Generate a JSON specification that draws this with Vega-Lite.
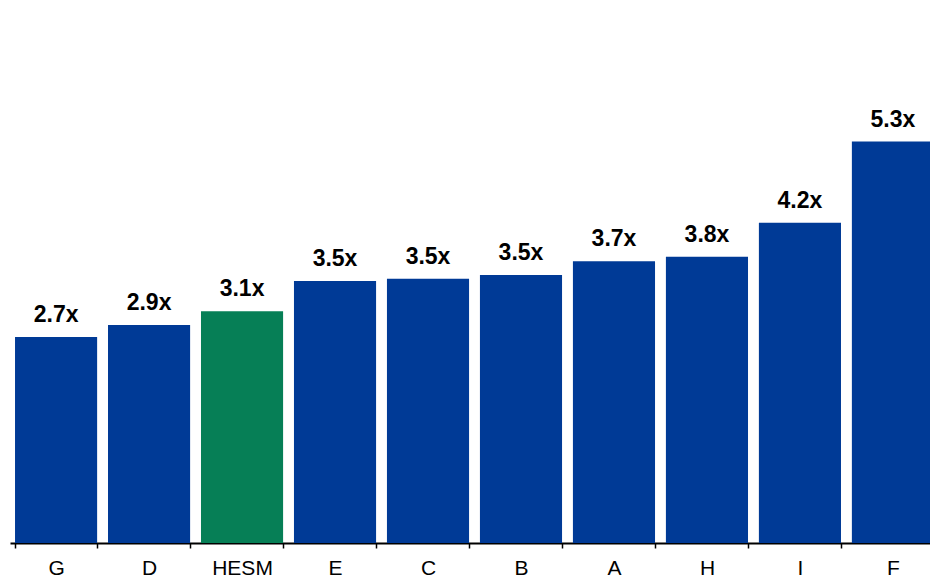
{
  "$schema": "https://vega.github.io/schema/vega-lite/v6.json",
  "width": 920,
  "height": 543,
  "autosize": {"type": "none"},
  "padding": {"left": 10, "top": 0, "right": 0, "bottom": 35},
  "background": "white",
  "config": {"view": {"stroke": null}, "font": "Liberation Sans"},
  "data": {
    "values": [
      {"name": "G", "value": 2.72, "label": "2.7x", "group": "peer"},
      {"name": "D", "value": 2.88, "label": "2.9x", "group": "peer"},
      {"name": "HESM", "value": 3.06, "label": "3.1x", "group": "HESM"},
      {"name": "E", "value": 3.46, "label": "3.5x", "group": "peer"},
      {"name": "C", "value": 3.49, "label": "3.5x", "group": "peer"},
      {"name": "B", "value": 3.54, "label": "3.5x", "group": "peer"},
      {"name": "A", "value": 3.72, "label": "3.7x", "group": "peer"},
      {"name": "H", "value": 3.78, "label": "3.8x", "group": "peer"},
      {"name": "I", "value": 4.23, "label": "4.2x", "group": "peer"},
      {"name": "F", "value": 5.3, "label": "5.3x", "group": "peer"}
    ]
  },
  "encoding": {
    "x": {
      "field": "name",
      "type": "nominal",
      "sort": null,
      "scale": {"range": [0, 929], "paddingInner": 0.117, "paddingOuter": 0.054},
      "axis": {
        "title": null,
        "labelAngle": 0,
        "labelFontSize": 21,
        "labelColor": "black",
        "labelPadding": 9,
        "domainColor": "black",
        "domainWidth": 2,
        "tickColor": "black",
        "tickWidth": 1.5,
        "tickSize": 5,
        "tickBand": "extent"
      }
    },
    "y": {
      "field": "value",
      "type": "quantitative",
      "scale": {"domain": [0, 7.17], "nice": false},
      "axis": null
    }
  },
  "layer": [
    {
      "mark": {"type": "bar"},
      "encoding": {
        "color": {
          "field": "group",
          "type": "nominal",
          "scale": {"domain": ["peer", "HESM"], "range": ["#003A96", "#067F56"]},
          "legend": null
        }
      }
    },
    {
      "mark": {"type": "text", "baseline": "alphabetic", "dy": -15, "fontSize": 23, "fontWeight": "bold", "color": "black"},
      "encoding": {"text": {"field": "label"}}
    }
  ]
}
